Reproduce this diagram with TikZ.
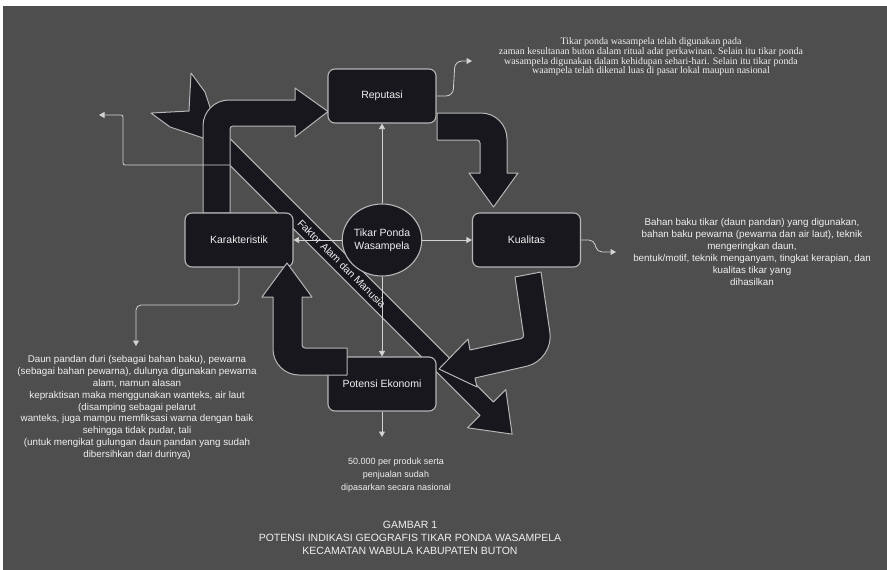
\documentclass[tikz,border=0pt]{standalone}
\usepackage{fontspec}
\setmainfont{Liberation Sans}
\newfontfamily\serifnote{Liberation Serif}
\usetikzlibrary{arrows.meta,shapes.geometric}
\definecolor{bggray}{RGB}{78,78,78}
\definecolor{boxfill}{RGB}{24,23,29}
\definecolor{edgegray}{RGB}{182,182,182}
\definecolor{lightline}{RGB}{210,210,210}
\definecolor{textwhite}{RGB}{240,240,240}
\tikzset{
  box/.style={draw=edgegray, line width=1.1pt, fill=boxfill, rounded corners=7pt,
    minimum width=108pt, minimum height=54pt, text=textwhite,
    font=\fontsize{10.5}{12}\selectfont},
  hub/.style={ellipse, draw=edgegray, line width=1.1pt, fill=boxfill,
    minimum width=60pt, minimum height=72pt, inner sep=0pt, text=textwhite,
    align=center, font=\fontsize{10.5}{13}\selectfont},
  bigarrow/.style={draw=edgegray, line width=1pt, fill=boxfill, line join=round},
  link/.style={draw=lightline, line width=0.8pt, -{Triangle[length=5.5pt,width=6pt]}},
  note/.style={text=textwhite, align=center, inner sep=0pt,
    font=\fontsize{9.8}{11.9}\selectfont},
}
\begin{document}
\begin{tikzpicture}[x=1pt,y=-1pt]
  \useasboundingbox (0,0) rectangle (887,570);
  \fill[white] (0,0) rectangle (887,570);
  \fill[bggray] (3,6) rectangle (887,570);

  % Faktor Alam dan Manusia
  \begin{scope}[shift={(189,111)}, rotate=-45]
    \draw[bigarrow] (0,0) -- (-25.4,28.3) -- (-2.1,24.7) -- (28.3,9.5) -- (421,9.5)
      -- (421,27) -- (457,0) -- (421,-27) -- (421,-9.5) -- (28.3,-9.5)
      -- (-2.1,-24.7) -- (-25.4,-28.3) -- cycle;
    \node[rotate=-45, text=textwhite, font=\fontsize{10.5}{12}\selectfont] (faktor) at (216,0) {Faktor Alam dan Manusia};
  \end{scope}
  \coordinate (bandtap) at (230,165);

  \draw[bigarrow] (203,213) [rounded corners=26pt]-- (203,100) [sharp corners]-- (295,100)
    -- (295,88) -- (328,111.5) -- (295,137) -- (295,126) [rounded corners=3pt]-- (230,126)
    [sharp corners]-- (230,213) -- cycle;
  \draw[bigarrow] (437,113) [rounded corners=26pt]-- (507,113) [sharp corners]-- (507,173)
    -- (518,173) -- (493.5,207) -- (469,173) -- (480,173) [rounded corners=3pt]-- (480,140)
    [sharp corners]-- (437,140) -- cycle;
  \draw[bigarrow] (515,277) -- (541,272) [rounded corners=28pt]-- (554,360) [sharp corners]
    -- (475,378) -- (477,387) -- (439,369) -- (468,339) -- (470,350) [rounded corners=3pt]
    -- (524,338) [sharp corners]-- cycle;

  \draw
    (382,96) node[box] (rep){Reputasi}
    (526.5,240) node[box] (kual){Kualitas}
    (239,240) node[box] (kar){Karakteristik}
    (382,384) node[box] (pot){Potensi Ekonomi}
    (382,240) node[hub] (tikar){Tikar Ponda\\Wasampela};

  \draw[bigarrow] (347,375) [rounded corners=26pt]-- (273,375) [sharp corners]-- (273,297)
    -- (262,297) -- (287,263) -- (312,297) -- (302,297) [rounded corners=3pt]-- (302,348)
    [sharp corners]-- (347,348) -- cycle;

  \coordinate (repnote) at (472,61);
  \coordinate (kualnote) at (616,252);
  \coordinate (karnote) at (136,346);
  \coordinate (leftnote) at (99,115);
  \coordinate (potnote) at (382,437);

  \begin{scope}[link]
    \draw (tikar.north) to (rep.south);
    \draw (tikar.east) to (kual.west);
    \draw (tikar.west) to (kar.east);
    \draw (tikar.south) to (pot.north);
    \draw (pot.south) to (potnote);
    \draw[rounded corners=7pt] (rep.east) -- (453,96) -- (455,61) -- (repnote);
    \draw[rounded corners=5pt] (kual.east) -- (594,240) -- (597,252) -- (kualnote);
    \draw[rounded corners=5pt] (kar.south) -- (239,305) -- (136,305) -- (karnote);
    \draw[rounded corners=2pt] (bandtap) -- (123,165) -- (123,115) -- (leftnote);
  \end{scope}

  \node[note, font=\serifnote\fontsize{9.9}{9.6}\selectfont] (repinfo) at (651,57)
    {Tikar ponda wasampela telah digunakan pada\\
     zaman kesultanan buton dalam ritual adat perkawinan. Selain itu tikar ponda\\
     wasampela digunakan dalam kehidupan sehari-hari. Selain itu tikar ponda\\
     waampela telah dikenal luas di pasar lokal maupun nasional};
  \node[note] (kualinfo) at (752,252)
    {Bahan baku tikar (daun pandan) yang digunakan,\\
     bahan baku pewarna (pewarna dan air laut), teknik\\
     mengeringkan daun,\\
     bentuk/motif, teknik menganyam, tingkat kerapian, dan\\
     kualitas tikar yang\\
     dihasilkan};
  \node[note] (karinfo) at (137,407.5)
    {Daun pandan duri (sebagai bahan baku), pewarna\\
     (sebagai bahan pewarna), dulunya digunakan pewarna\\
     alam, namun alasan\\
     kepraktisan maka menggunakan wanteks, air laut\\
     (disamping sebagai pelarut\\
     wanteks, juga mampu memfiksasi warna dengan baik\\
     sehingga tidak pudar, tali\\
     (untuk mengikat gulungan daun pandan yang sudah\\
     dibersihkan dari durinya)};
  \node[note, font=\fontsize{9}{12.8}\selectfont] (potinfo) at (396,475)
    {50.000 per produk serta\\
     penjualan sudah\\
     dipasarkan secara nasional};
  \node[note, font=\fontsize{10.5}{13}\selectfont] (caption) at (410,537.5)
    {GAMBAR 1\\
     POTENSI INDIKASI GEOGRAFIS TIKAR PONDA WASAMPELA\\
     KECAMATAN WABULA KABUPATEN BUTON};
\end{tikzpicture}
\end{document}
